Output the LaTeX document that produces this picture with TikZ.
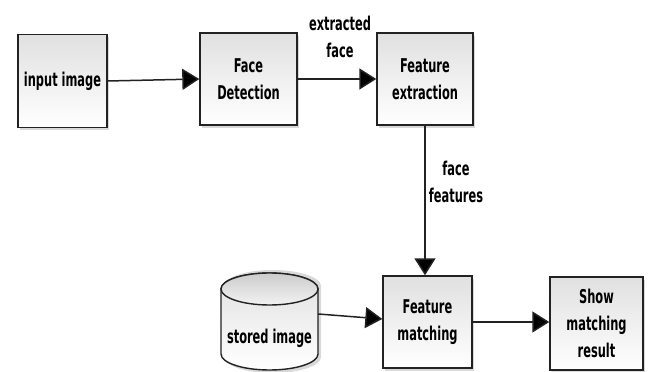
\documentclass[tikz,border=0pt]{standalone}
\usepackage{fontspec}
\setmainfont{DejaVu Sans}[FakeStretch=0.6]
\usetikzlibrary{arrows.meta,shadows,calc}
\definecolor{edge}{HTML}{222222}
\tikzset{
  procbox/.style={draw=edge,line width=1.4pt,top color=black!12,bottom color=white,
    drop shadow={shadow xshift=2pt,shadow yshift=-3pt,fill=black!25,opacity=0.6},
    align=center,inner sep=0pt,font=\fontsize{19}{27}\selectfont\bfseries},
  lbl/.style={align=center,inner sep=0pt,font=\fontsize{19}{27}\selectfont\bfseries},
  conn/.style={draw=edge,line width=1.5pt,-{Triangle[length=17pt,width=21pt,fill=black]}}
}
\begin{document}
\begin{tikzpicture}[x=1pt,y=1pt]
\useasboundingbox (0,0) rectangle (648,372);
\node[procbox,minimum width=89pt,minimum height=93pt] (input) at (62.5,291) {input image};
\node[procbox,minimum width=97pt,minimum height=92pt] (facedet) at (248.5,293) {Face\\Detection};
\node[procbox,minimum width=96pt,minimum height=92pt] (featext) at (425,293) {Feature\\extraction};
\node[procbox,minimum width=89pt,minimum height=92pt] (match) at (427.5,50) {Feature\\matching};
\node[procbox,minimum width=93pt,minimum height=93pt] (show) at (596.5,48.5) {Show\\matching\\result};
% cylinder
\fill[black!25,opacity=0.6] (224,86) -- (224,15) arc (180:360:48.5 and 16) -- (321,86) arc (0:180:48.5 and 16) -- cycle;
\shade[top color=black!12,bottom color=white,draw=edge,line width=1.4pt]
  (221,83) -- (221,18) arc (180:360:48.5 and 16) -- (318,83) arc (0:180:48.5 and 16) -- cycle;
\shade[top color=black!20,bottom color=black!5,draw=edge,line width=1.4pt] (269.5,83) ellipse (48.5 and 16);
\node[lbl,minimum width=97pt,minimum height=30pt] (cyl) at (269.5,34) {stored image};
% labels
\node[lbl] (lblext) at (340,335) {extracted\\face};
\node[lbl] (lblfeat) at (456,190) {face\\features};
% connectors
\draw[conn] (input.east) -- (facedet.west);
\draw[conn] (facedet.east) -- (featext.west);
\draw[conn] (featext.south) -- (featext.south |- match.north);
\draw[conn] ([yshift=24pt]cyl.east) -- ([yshift=3pt]match.west);
\draw[conn] (match.east) -- (show.west |- match.east);
\end{tikzpicture}
\end{document}
